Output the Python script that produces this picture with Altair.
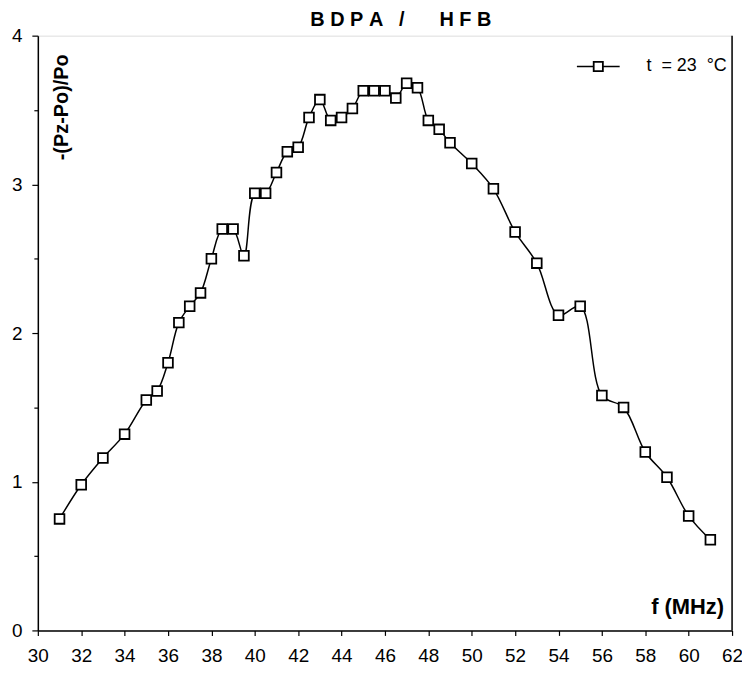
import altair as alt
import pandas as pd

# ---- data ----
freq = [31, 32, 33, 34, 35, 35.5, 36, 36.5, 37, 37.5, 38, 38.5, 39, 39.5, 40, 40.5,
        41, 41.5, 42, 42.5, 43, 43.5, 44, 44.5, 45, 45.5, 46, 46.5, 47, 47.5, 48,
        48.5, 49, 50, 51, 52, 53, 54, 55, 56, 57, 58, 59, 60, 61]
ratio = [0.75, 0.98, 1.16, 1.32, 1.55, 1.61, 1.80, 2.07, 2.18, 2.27, 2.50, 2.70, 2.70,
         2.52, 2.94, 2.94, 3.08, 3.22, 3.25, 3.45, 3.57, 3.43, 3.45, 3.51, 3.63, 3.63,
         3.63, 3.58, 3.68, 3.65, 3.43, 3.37, 3.28, 3.14, 2.97, 2.68, 2.47, 2.12, 2.18,
         1.58, 1.50, 1.20, 1.03, 0.77, 0.61]
x_ticks = list(range(30, 63))
y_ticks = [0, 0.5, 1, 1.5, 2, 2.5, 3, 3.5, 4]
series_label = "t\u00a0\u00a0= 23\u00a0\u00a0°C"
title_parts = ["B\u00a0D\u00a0P\u00a0A", "/", "H\u00a0F\u00a0B"]
y_title = "-(Pz-Po)/Po"
x_title = "f (MHz)"

df = pd.DataFrame({"f": freq, "r": ratio})

W, H = 698, 598
FONT = "Liberation Sans"

x_enc = alt.X("f:Q", scale=alt.Scale(domain=[30, 62], nice=False, zero=False),
              axis=alt.Axis(values=x_ticks, title=None, grid=False,
                            labelExpr="datum.value % 2 == 0 ? format(datum.value, 'd') : ''",
                            tickSize={"condition": {"test": "datum.value % 2 == 0", "value": 5}, "value": 3},
                            labelPadding=11, labelFontSize=19, labelFont=FONT, labelColor="black",
                            domainColor="black", domainWidth=1.5, tickColor="black", tickWidth=1.2,
                            labelFlush=False, labelOverlap=False))
y_enc = alt.Y("r:Q", scale=alt.Scale(domain=[0, 4], nice=False),
              axis=alt.Axis(values=y_ticks, title=None, grid=False,
                            labelExpr="datum.value % 1 == 0 ? format(datum.value, 'd') : ''",
                            tickSize={"condition": {"test": "datum.value % 1 == 0", "value": 6}, "value": 4},
                            labelPadding=10, labelFontSize=19, labelFont=FONT, labelColor="black",
                            domainColor="black", domainWidth=1.5, tickColor="black", tickWidth=1.2,
                            labelFlush=False, labelOverlap=False))

line = alt.Chart(df).mark_line(color="black", strokeWidth=1.5, interpolate="catmull-rom").encode(x=x_enc, y=y_enc)
pts = alt.Chart(df).mark_point(shape="square", size=95, filled=True, fill="white",
                               stroke="black", strokeWidth=1.8, opacity=1).encode(x="f:Q", y="r:Q")

one = alt.Data(values=[{"a": 1}])

right_border = alt.Chart(one).mark_rule(color="black", strokeWidth=1.5).encode(
    x=alt.value(W), y=alt.value(0), y2=alt.value(H))

TY = -10
t1 = alt.Chart(one).mark_text(font=FONT, fontSize=20, fontWeight="bold", align="left",
                              baseline="alphabetic", color="black").encode(
    x=alt.value(274), y=alt.value(TY), text=alt.value(title_parts[0]))
t2 = alt.Chart(one).mark_text(font=FONT, fontSize=20, fontWeight="bold", align="center",
                              baseline="alphabetic", color="black").encode(
    x=alt.value(366), y=alt.value(TY), text=alt.value(title_parts[1]))
t3 = alt.Chart(one).mark_text(font=FONT, fontSize=20, fontWeight="bold", align="right",
                              baseline="alphabetic", color="black").encode(
    x=alt.value(456), y=alt.value(TY), text=alt.value(title_parts[2]))

ytitle = alt.Chart(one).mark_text(font=FONT, fontSize=20, fontWeight="bold", align="center",
                                  baseline="alphabetic", angle=270, color="black").encode(
    x=alt.value(30), y=alt.value(72), text=alt.value(y_title))
xtitle = alt.Chart(one).mark_text(font=FONT, fontSize=22, fontWeight="bold", align="right",
                                  baseline="alphabetic", color="black").encode(
    x=alt.value(690), y=alt.value(581), text=alt.value(x_title))

leg_line = alt.Chart(one).mark_rule(color="black", strokeWidth=1.5).encode(
    x=alt.value(542), x2=alt.value(585), y=alt.value(31))
leg_pt = alt.Chart(one).mark_point(shape="square", size=85, filled=True, fill="white",
                                   stroke="black", strokeWidth=1.8, opacity=1).encode(
    x=alt.value(563.5), y=alt.value(31))
leg_txt = alt.Chart(one).mark_text(font=FONT, fontSize=18, align="left", baseline="middle",
                                   color="black").encode(
    x=alt.value(612), y=alt.value(31), text=alt.value(series_label))

chart = alt.layer(line, pts, right_border, t1, t2, t3, ytitle, xtitle, leg_line, leg_pt, leg_txt).properties(
    width=W, height=H,
    autosize=alt.AutoSizeParams(type="none"),
    padding={"left": 30, "top": 26, "right": 10, "bottom": 40},
).configure_view(stroke="#808080", strokeWidth=1.8).configure(background="white")

chart.save("out.html", embed_options={"renderer": "svg", "actions": False})
